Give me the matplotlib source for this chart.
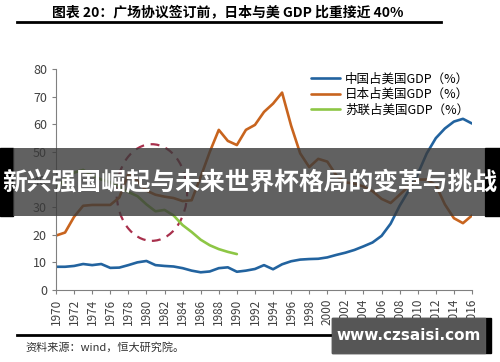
import matplotlib
matplotlib.use("Agg")
import matplotlib.pyplot as plt
from matplotlib.patches import Rectangle, Ellipse
from matplotlib.lines import Line2D
import numpy as np

plt.rcParams['font.family'] = ['Noto Sans CJK SC', 'DejaVu Sans']

# data (% of US GDP)
years = list(range(1970, 2017))
china = [8.4, 8.4, 8.7, 9.4, 9.0, 9.4, 8.0, 8.1, 9.0, 10.0,
         10.5, 9.0, 8.7, 8.5, 7.9, 7.0, 6.4, 6.7, 7.9, 8.2,
         6.6, 7.0, 7.6, 9.0, 7.5, 9.3, 10.4, 11.0, 11.2, 11.3,
         11.8, 12.7, 13.5, 14.5, 15.8, 17.2, 19.6, 24.0, 30.5, 36.0,
         42.0, 49.5, 55.0, 58.5, 61.0, 62.0, 60.3]
japan = [19.7, 20.8, 26.5, 30.5, 30.8, 30.8, 30.8, 33.5, 42.0, 39.5,
         36.0, 34.5, 33.8, 33.3, 32.2, 32.5, 41.0, 50.0, 58.0, 54.0,
         52.5, 58.0, 59.8, 64.5, 67.5, 71.5, 59.5, 49.5, 44.5, 47.5,
         46.5, 41.5, 39.0, 38.5, 37.5, 35.8, 33.0, 31.5, 34.5, 37.5,
         40.0, 40.0, 38.0, 31.0, 26.0, 24.2, 27.0]
ussr_years = list(range(1970, 1991))
ussr = [37.0, 40.0, 42.5, 43.5, 41.5, 40.0, 39.0, 37.5, 35.5, 34.0,
        31.0, 28.5, 29.0, 27.0, 23.5, 21.0, 18.2, 16.2, 14.8, 13.8,
        13.0]
labels = ['中国占美国GDP（%）', '日本占美国GDP（%）', '苏联占美国GDP（%）']
colors = ['#22639f', '#c8641e', '#8dc645']

fig = plt.figure(figsize=(5, 3.62), dpi=100)
ax = fig.add_axes([0.112, 0.199, 0.832, 0.61])

for xs, ys, lab, c in [(years, china, labels[0], colors[0]),
                       (years, japan, labels[1], colors[1]),
                       (ussr_years, ussr, labels[2], colors[2])]:
    ax.plot(xs, ys, color=c, lw=1.9, label=lab,
            solid_joinstyle='round', solid_capstyle='round')

# dashed circle around the pre-Plaza years
ax.add_patch(Ellipse((1980.6, 35.3), 7.8, 35, fill=False, ls=(0, (4, 3)),
                     lw=1.6, color='#a8304c'))

ax.set_xlim(1970, 2016)
ax.set_ylim(0, 80)
ax.set_yticks(range(0, 81, 10))
ax.set_xticks(range(1970, 2017, 2))
ax.set_xticklabels([str(y) for y in range(1970, 2017, 2)], rotation=90)
ax.tick_params(axis='both', direction='out', length=3, color='#808080',
               labelcolor='#404040', labelsize=8.5)
ax.tick_params(axis='y', labelsize=9)
for s in ['top', 'right']:
    ax.spines[s].set_visible(False)
for s in ['left', 'bottom']:
    ax.spines[s].set_color('#808080')

ax.legend(loc='upper left', bbox_to_anchor=(0.6, 0.83),
          bbox_transform=fig.transFigure, frameon=False, fontsize=9,
          handlelength=2.3, labelspacing=0.2, handletextpad=0.4)

# title and rules
fig.text(0.456, 0.964, '图表 20：广场协议签订前，日本与美 GDP 比重接近 40%',
         ha='center', va='center', fontsize=10, fontweight='bold')
fig.add_artist(Line2D([0.034, 0.882], [0.938, 0.938], color='black', lw=2))
fig.add_artist(Line2D([0.034, 0.882], [0.0746, 0.0746], color='black', lw=2))
fig.text(0.05, 0.041, '资料来源：wind，恒大研究院。', ha='left', va='center',
         fontsize=8, color='#333333', style='italic')

# overlay banner (semi-transparent, chart shows through), black edges
fig.add_artist(Rectangle((0, 0.403), 0.026, 0.188, transform=fig.transFigure,
                         color='black', zorder=10))
fig.add_artist(Rectangle((0.97, 0.403), 0.03, 0.188, transform=fig.transFigure,
                         color='black', zorder=10))
fig.add_artist(Rectangle((0.026, 0.403), 0.944, 0.188, transform=fig.transFigure,
                         facecolor='#3a3a3a', edgecolor='none', alpha=0.8,
                         zorder=13))
fig.text(0.5, 0.494, '新兴强国崛起与未来世界杯格局的变革与挑战', ha='center',
         va='center', fontsize=17.8, fontweight='bold', color='white', zorder=14)

# watermark
fig.add_artist(Rectangle((0.664, 0.025), 0.318, 0.097, transform=fig.transFigure,
                         color='black', zorder=10))
fig.add_artist(Rectangle((0.664, 0.025), 0.306, 0.097, transform=fig.transFigure,
                         color='#5c5c5c', alpha=0.95, zorder=11))
fig.text(0.818, 0.072, 'www.czsaisi.com', ha='center', va='center',
         fontsize=11, fontweight='bold', color='white', family='DejaVu Sans',
         zorder=12)

fig.savefig('out.png', dpi=100)
